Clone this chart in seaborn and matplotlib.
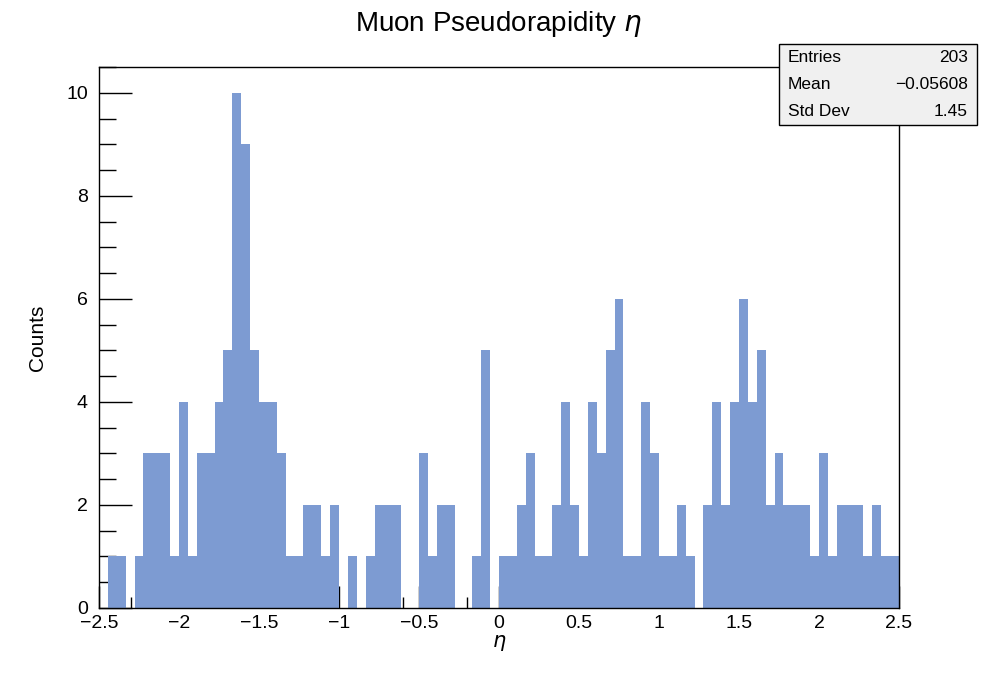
import numpy as np
import pandas as pd
import matplotlib
matplotlib.use("Agg")
import matplotlib.pyplot as plt
import seaborn as sns
from matplotlib.ticker import MultipleLocator

counts = [0, 1, 1, 0, 1, 3, 3, 3, 1, 4,
          1, 3, 3, 4, 5, 10, 9, 5, 4, 4,
          3, 1, 1, 2, 2, 1, 2, 0, 1, 0,
          1, 2, 2, 2, 0, 0, 3, 1, 2, 2,
          0, 0, 1, 5, 0, 1, 1, 2, 3, 1,
          1, 2, 4, 2, 1, 4, 3, 5, 6, 1,
          1, 4, 3, 1, 1, 2, 1, 0, 2, 4,
          2, 4, 6, 4, 5, 2, 3, 2, 2, 2,
          1, 3, 1, 2, 2, 2, 1, 2, 1, 1]
n_bins = 90
x_lo, x_hi = -2.5, 2.5
stats_labels = ["Entries", "Mean", "Std Dev"]
stats_values = ["203", "\u22120.05608", "1.45"]

edges = np.linspace(x_lo, x_hi, n_bins + 1)
df = pd.DataFrame({"eta": (edges[:-1] + edges[1:]) / 2, "w": counts})

sns.set_style("white", {"xtick.bottom": True, "ytick.left": True,
                        "text.color": "black", "axes.labelcolor": "black",
                        "xtick.color": "black", "ytick.color": "black"})
plt.rcParams["font.family"] = ["Liberation Sans", "DejaVu Sans"]
plt.rcParams["mathtext.fontset"] = "dejavusans"

fig = plt.figure(figsize=(9.98, 6.76), dpi=100)
ax = fig.add_axes([99/998, 1 - 608/676, 800/998, (608-67)/676])
sns.histplot(data=df, x="eta", weights="w", bins=n_bins, binrange=(x_lo, x_hi),
             color="#7d9bd2", alpha=1, linewidth=0, ax=ax)
ax.set_xlim(x_lo, x_hi)
ax.set_ylim(0, 10.5)
ax.xaxis.set_major_locator(MultipleLocator(0.5))
ax.xaxis.set_minor_locator(MultipleLocator(0.1))
ax.yaxis.set_major_locator(MultipleLocator(2))
ax.yaxis.set_minor_locator(MultipleLocator(0.5))
ax.tick_params(which="both", direction="in", bottom=True, left=True, colors="black", width=1)
ax.tick_params(which="major", length=16, labelsize=14)
ax.tick_params(which="minor", length=8)
ax.tick_params(axis="y", which="major", length=24, pad=8)
ax.tick_params(axis="y", which="minor", length=12)
ax.tick_params(axis="x", which="major", pad=5)
ax.set_xticklabels([f"{t:g}".replace("-", "\u2212") for t in ax.get_xticks()])
for s in ax.spines.values():
    s.set_color("black"); s.set_linewidth(1)
ax.set_xlabel(r"$\eta$", fontsize=15, loc="center", labelpad=1, color="black")
ax.set_ylabel("Counts", fontsize=15, labelpad=14, color="black")
fig.text(0.5, 1 - 24/676, r"Muon Pseudorapidity $\eta$", ha="center", va="center",
         fontsize=20, color="black")

# stats box
bx0, by0, bx1, by1 = 779/998, 1 - 125/676, 977/998, 1 - 44/676
fig.patches.append(plt.Rectangle((bx0, by0), bx1 - bx0, by1 - by0, transform=fig.transFigure,
                                 facecolor="#f0f0f0", edgecolor="black", linewidth=1))
for i, (lab, val) in enumerate(zip(stats_labels, stats_values)):
    yy = by1 - (i + 0.5) * (by1 - by0) / 3
    fig.text(bx0 + 0.009, yy, lab, ha="left", va="center", fontsize=12.5, color="black")
    fig.text(bx1 - 0.009, yy, val, ha="right", va="center", fontsize=12.5, color="black")

fig.savefig("out.png", dpi=100)
